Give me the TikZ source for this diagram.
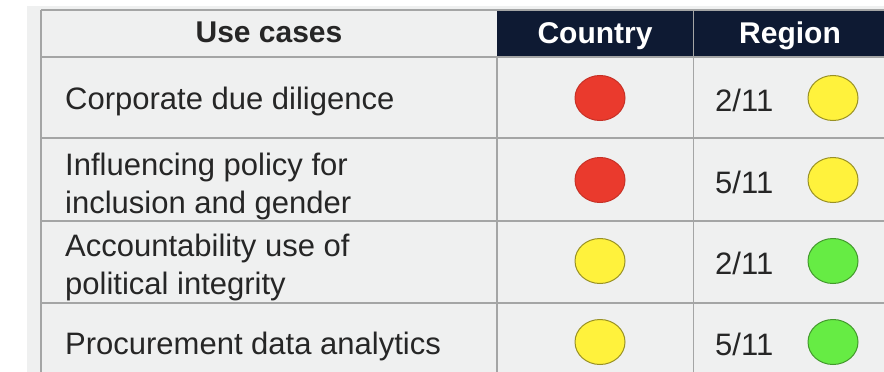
\documentclass[tikz,border=0pt]{standalone}
\usepackage{fontspec}
\setmainfont{Liberation Sans}
\usetikzlibrary{shapes.geometric}

\definecolor{cellgrey}{HTML}{EFF0F0}
\definecolor{rulegrey}{HTML}{A4A5A5}
\definecolor{headnavy}{HTML}{0E1A33}
\definecolor{inkdark}{HTML}{262626}
\definecolor{dotred}{HTML}{EA3A2D}
\definecolor{dotyellow}{HTML}{FFF23C}
\definecolor{dotgreen}{HTML}{66EC44}

\begin{document}
\begin{tikzpicture}[x=1pt, y=-1pt,
    rule/.style = {draw = rulegrey, line width = 1.6pt},
    label/.style = {text = inkdark, inner sep = 0pt, font = \fontsize{31}{38}\selectfont},
    headlabel/.style = {inner sep = 0pt, anchor = base, font = \fontsize{30}{38}\selectfont\bfseries},
    light/.style = {ellipse, minimum width = 50pt, minimum height = 45pt, inner sep = 0pt, line width = 1pt}]
        \useasboundingbox (0, 0) rectangle (884, 372);
        \fill[cellgrey] (27, 6) rectangle (884, 372);
        \fill[headnavy] (497, 10) rectangle (884, 56);

        % table rules
        \draw[rule] (41, 10) -- (884, 10);
        \draw[rule, line width = 2.6pt] (41, 57) -- (884, 57);
        \draw[rule] (41, 138) -- (884, 138);
        \draw[rule] (41, 221) -- (884, 221);
        \draw[rule] (41, 303) -- (884, 303);
        \draw[rule] (41, 10) -- (41, 372);
        \draw[rule] (497, 57) -- (497, 372);
        \draw[rule] (693.5, 10) -- (693.5, 372);

        \node[headlabel, text = inkdark] (usecases) at (269, 42) {Use cases};
        \node[headlabel, text = white] (country) at (595, 43) {Country};
        \node[headlabel, text = white] (region) at (790, 43) {Region};

        \node[label, anchor = base west] (case1) at (65, 109) {Corporate due diligence};
        \node[label, anchor = west, align = left] (case2) at (65, 186) {Influencing policy for\\inclusion and gender};
        \node[label, anchor = west, align = left] (case3) at (65, 267) {Accountability use of\\political integrity};
        \node[label, anchor = base west] (case4) at (65, 354) {Procurement data analytics};

        \node[light, fill = dotred, draw = dotred!85!black] (country1) at (600, 98) {};
        \node[light, fill = dotred, draw = dotred!85!black] (country2) at (600, 180) {};
        \node[light, fill = dotyellow, draw = dotyellow!60!black] (country3) at (600, 261) {};
        \node[light, fill = dotyellow, draw = dotyellow!60!black] (country4) at (600, 342) {};

        \node[label, anchor = base west] (share1) at (715, 111) {2/11};
        \node[label, anchor = base west] (share2) at (715, 193) {5/11};
        \node[label, anchor = base west] (share3) at (715, 274) {2/11};
        \node[label, anchor = base west] (share4) at (715, 355) {5/11};

        \node[light, fill = dotyellow, draw = dotyellow!60!black] (region1) at (833, 98) {};
        \node[light, fill = dotyellow, draw = dotyellow!60!black] (region2) at (833, 180) {};
        \node[light, fill = dotgreen, draw = dotgreen!65!black] (region3) at (833, 261) {};
        \node[light, fill = dotgreen, draw = dotgreen!65!black] (region4) at (833, 342) {};

    \end{tikzpicture}
\end{document}
